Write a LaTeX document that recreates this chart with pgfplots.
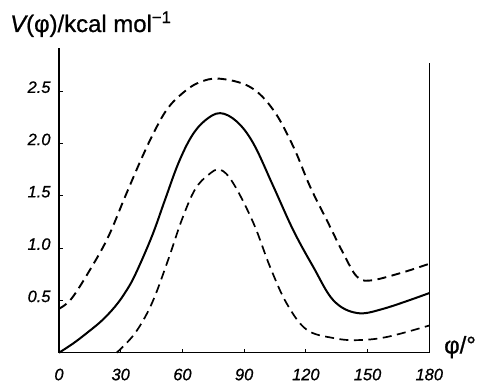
\documentclass[border=0pt]{standalone}
\usepackage{fontspec}
\setmainfont{Liberation Sans}
\usepackage{pgfplots}
\pgfplotsset{compat=1.18}
\newfontfamily\tickfont{Liberation Sans}[FakeBold=0.8]
\newfontfamily\labfont{Liberation Sans}[FakeBold=0.8]
\begin{document}
\begin{tikzpicture}
\path[use as bounding box] (-59bp,-31.3bp) rectangle (418bp,352.7bp);
\begin{axis}[
  at={(0,0)}, anchor=south west, scale only axis,
  width=370.3bp, height=304.4bp,
  xmin=0, xmax=180, ymin=0, ymax=2.91,
  axis x line=bottom, axis y line=left,
  axis line style={-, line width=1.3bp, black},
  xtick={0,30,60,90,120,150,180},
  xticklabels={0,30,60,90,120,150,180},
  ytick={0.5,1,1.5,2,2.5},
  yticklabels={0.5,1.0,1.5,2.0,2.5},
  tick align=inside, major tick length=4bp,
  tick style={line width=1bp, black},
  ticklabel style={font=\tickfont\fontsize{16.5}{16.5}\selectfont\itshape},
  yticklabel style={anchor=east, xshift=-5bp, yshift=4bp},
  xticklabel style={anchor=base, yshift=-27.5bp},
  /pgf/number format/assume math mode=true,
  clip=false,
]
% solid curve
\addplot[black, line width=2bp, smooth, tension=0.6] coordinates {
(0,0) (7,0.09) (14.3,0.2) (21,0.31) (27.2,0.44) (32,0.57) (36.9,0.74) (45.1,1.11) (51.5,1.46)
(58,1.81) (64.5,2.07) (71,2.22) (78.3,2.29) (86.4,2.21) (94.5,2.0)
(104.2,1.59) (113.9,1.17) (123.6,0.82) (133.4,0.5) (144.7,0.38)
(157.7,0.42) (180,0.57)
};
% upper dashed
\addplot[black, line width=1.9bp, smooth, tension=0.6, dash pattern=on 9bp off 5.5bp] coordinates {
(0,0.42) (6.2,0.52) (15.9,0.82) (24,1.11) (32.1,1.49) (40.2,1.86)
(47,2.14) (53,2.34) (60,2.48) (67.7,2.58) (77.8,2.62) (92.9,2.54) (104.2,2.32)
(113.9,1.97) (122,1.59) (130.1,1.27) (138.2,0.95) (144.7,0.73)
(151.2,0.69) (165.8,0.76) (180,0.85)
};
% lower dashed
\addplot[black, line width=1.7bp, smooth, tension=0.6, dash pattern=on 9bp off 5.5bp] coordinates {
(28,0) (36.9,0.185) (45.1,0.47) (53.1,0.89) (59.7,1.27) (66.1,1.56)
(72.6,1.70) (78.3,1.75) (84.7,1.62) (94.5,1.24) (102.6,0.82)
(110.7,0.47) (120.4,0.22) (133.4,0.14) (144.7,0.12) (159.3,0.15) (180,0.26)
};
\draw[black, line width=1.3bp] (axis cs:180,0) -- (axis cs:180,2.77);
\end{axis}
\node[anchor=base west, inner sep=0, font=\labfont\fontsize{24}{24}\selectfont]
  at (-49bp,320.7bp) {\itshape V\upshape(φ)/kcal mol\textsuperscript{−1}};
\node[anchor=west, inner sep=0, font=\labfont\fontsize{24}{24}\selectfont]
  at (385bp,5.5bp) {φ/°};
\end{tikzpicture}
\end{document}
